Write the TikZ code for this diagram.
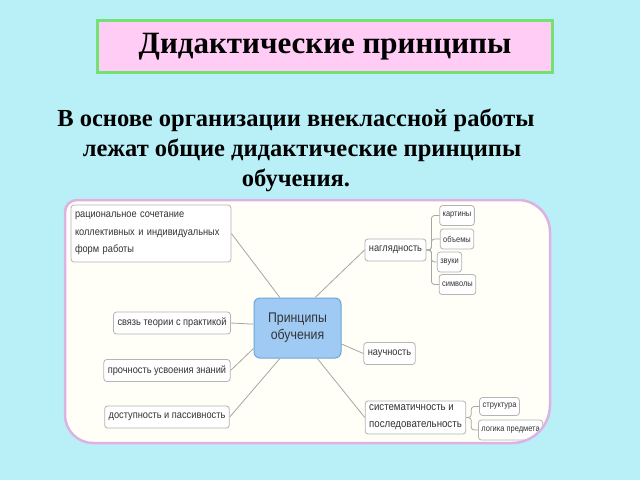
\documentclass[tikz,border=0pt]{standalone}
\usepackage{fontspec}
\setmainfont{Liberation Serif}
\setsansfont{Liberation Sans}[FakeStretch=0.88]

\definecolor{bgcyan}{HTML}{B9F0F8}
\definecolor{titlepink}{HTML}{FFCCF6}
\definecolor{titlegreen}{HTML}{72E272}
\definecolor{framecream}{HTML}{FFFEF7}
\definecolor{framepink}{HTML}{DDB2E2}
\definecolor{boxgray}{HTML}{B4B4B4}
\definecolor{linegray}{HTML}{A6A6A6}
\definecolor{hubblue}{HTML}{9FCAF4}
\definecolor{hubedge}{HTML}{6FA5DD}
\definecolor{inktext}{HTML}{333333}

\tikzset{
  leaf/.style = {draw=boxgray, fill=white, rounded corners=3pt, text=inktext,
    line width=0.8pt, inner xsep=4pt, inner ysep=4pt, minimum height=22pt,
    font=\sffamily\fontsize{10.5}{17.5}\selectfont},
  twig/.style = {leaf, inner xsep=3pt, inner ysep=3pt, minimum height=20pt,
    font=\sffamily\fontsize{8.5}{10}\selectfont},
  hub/.style = {draw=hubedge, fill=hubblue, rounded corners=6pt, text=inktext,
    line width=1pt, minimum width=87pt, minimum height=60pt, align=center,
    font=\sffamily\fontsize{14}{17}\selectfont},
  link/.style = {draw=linegray, line width=0.8pt},
}

\def\framepath{(65,212) arc[start angle=180, end angle=270, radius=12]
  -- (518,200) arc[start angle=270, end angle=360, radius=32]
  -- (550,405) arc[start angle=0, end angle=90, radius=38]
  -- (93,443) arc[start angle=90, end angle=180, radius=28] -- cycle}

\begin{document}
\begin{tikzpicture}[x=1pt, y=-1pt]
\fill[bgcyan] (0,0) rectangle (640,480);

% heading
\node[draw=titlegreen, line width=3pt, fill=titlepink, minimum width=455pt,
  minimum height=52pt, font=\bfseries\fontsize{31}{34}\selectfont] (title)
  at (325,46.5) {Дидактические принципы};
\node[align=center, font=\bfseries\fontsize{24.5}{30}\selectfont] (intro)
  at (296,150) {В основе организации внеклассной работы\\
  \hspace*{12pt}лежат общие дидактические принципы\\обучения.};

% mind map panel
\expandafter\fill\expandafter[framecream]\framepath;

\node[hub] (hub) at (297.5,328) {Принципы\\обучения};

\node[leaf, align=left, text width=152pt, minimum height=57pt] (rac)
  at (151,233.5) {рациональное сочетание\\коллективных и индивидуальных\\форм работы};
\node[leaf] (svyaz) at (172,323) {связь теории с практикой};
\node[leaf] (proch) at (167,370.5) {прочность усвоения знаний};
\node[leaf] (dost) at (167,417) {доступность и пассивность};

\node[leaf] (nagl) at (395.5,250) {наглядность};
\node[leaf] (nauch) at (389.5,353.5) {научность};
\node[leaf, align=left, font=\sffamily\fontsize{11}{17}\selectfont] (sist)
  at (415.5,417.5) {систематичность и\\последовательность};

\node[twig] (kart) at (457,215.5) {картины};
\node[twig] (obem) at (457,239) {объемы};
\node[twig] (zvuki) at (449.5,262) {звуки};
\node[twig] (simv) at (457.5,284.5) {символы};
\node[twig, minimum height=18pt] (strukt) at (499.5,406.5) {структура};

\draw[link] (rac.east) -- (hub.120);
\draw[link] (svyaz.east) -- (hub.175);
\draw[link] (proch.east) -- (hub.205);
\draw[link] (dost.east) -- (hub.240);
\draw[link] (nagl.west) -- (hub.60);
\draw[link] (nauch.west) -- (hub.-20);
\draw[link] (sist.west) -- (hub.-57);

\foreach \k in {kart,obem,zvuki,simv}
  \draw[link, rounded corners=3pt] (nagl.east) -- ++(5,0) |- (\k.west);
\draw[link, rounded corners=3pt] (sist.east) -- ++(5,0) |- (strukt.west);

\begin{scope}
  \expandafter\clip\framepath;
  \node[twig, anchor=west] (logika) at (478,430) {логика предмета};
  \draw[link, rounded corners=3pt] (sist.east) -- ++(5,0) |- (logika.west);
\end{scope}

\expandafter\draw\expandafter[framepink, line width=2.5pt]\framepath;
\end{tikzpicture}
\end{document}
